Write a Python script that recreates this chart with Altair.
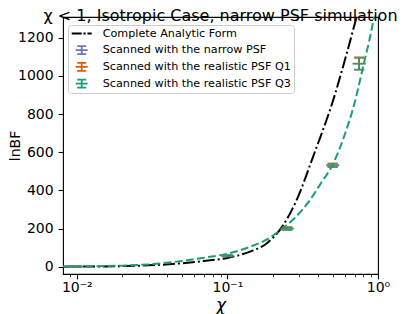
import altair as alt
import pandas as pd

# ---- data ----
chi_analytic = [0.0081, 0.01, 0.015, 0.02, 0.03, 0.05, 0.07, 0.1, 0.14, 0.182,
                0.235, 0.294, 0.37, 0.504, 0.619, 0.72]
lnbf_analytic = [0.3, 0.5, 1.5, 3, 7, 18, 30, 46, 78, 122,
                 218, 365, 575, 873, 1116, 1308]

chi_fit = [0.0081, 0.01, 0.015, 0.02, 0.03, 0.05, 0.07, 0.1, 0.14, 0.182,
           0.232, 0.28, 0.35, 0.42, 0.5, 0.6, 0.7, 0.8, 0.9, 0.94]
lnbf_fit = [0.8, 1.2, 3, 5.5, 12, 30, 47, 68, 103, 142,
            200, 255, 345, 440, 535, 690, 860, 1055, 1230, 1308]

chi_scan = [0.01, 0.1, 0.25, 0.5, 0.75]
narrow_val = [0.5, 57, 200, 531, 1064]
narrow_err = [1.5, 4, 7, 9, 31]
q1_val = [0.6, 58, 201, 532, 1065]
q1_err = [1.5, 4, 8, 10, 34]
q3_val = [0.5, 58, 199, 530, 1063]
q3_err = [1.5, 4, 7, 8, 30]

series_names = ["Complete Analytic Form",
                "Scanned with the narrow PSF",
                "Scanned with the realistic PSF Q1",
                "Scanned with the realistic PSF Q3"]
series_colors = ["#000000", "#7570b3", "#d95f02", "#1b9e77"]

title_text = "χ < 1, Isotropic Case, narrow PSF simulation"
x_major = [0.01, 0.1, 1.0]
y_ticks = [0, 200, 400, 600, 800, 1000, 1200]

# ---- tables ----
analytic_df = pd.DataFrame({"chi": chi_analytic, "lnbf": lnbf_analytic})
fit_df = pd.DataFrame({"chi": chi_fit, "lnbf": lnbf_fit})

scan_sets = [(series_names[1], narrow_val, narrow_err, series_colors[1]),
             (series_names[2], q1_val, q1_err, series_colors[2]),
             (series_names[3], q3_val, q3_err, series_colors[3])]
rows = []
for name, vals, errs, _c in scan_sets:
    for c, v, e in zip(chi_scan, vals, errs):
        rows.append({"series": name, "chi": c, "lnbf": v, "lo": v - e, "hi": v + e})
scan_df = pd.DataFrame(rows)

minor = []
for e in (-3, -2, -1):
    for k in range(2, 10):
        v = round(k * 10 ** e, 6)
        if 0.0081 <= v <= 1.0:
            minor.append(v)
tick_values = sorted(x_major + minor)

major_test = "datum.value == 0.01 || datum.value == 0.1 || datum.value == 1"

xscale = alt.Scale(type="log", domain=[0.0081, 1.0], nice=False)
yscale = alt.Scale(domain=[-38.3, 1308.5], nice=False, zero=False)

xaxis = alt.Axis(
    values=tick_values,
    labelExpr="datum.value == 0.01 ? '10⁻²' : datum.value == 0.1 ? '10⁻¹' : datum.value == 1 ? '10⁰' : ''",
    tickSize={"condition": {"test": major_test, "value": 4.9}, "value": 2.8},
    tickWidth={"condition": {"test": major_test, "value": 1.1}, "value": 0.85},
    grid=False, domain=False, labelOverlap=False, labelFlush=False,
    labelFontSize=14, labelPadding=2,
    title="χ", titleFontStyle="italic", titleFontWeight="normal", titleFontSize=17,
    titleBaseline="alphabetic", titleY=36,
)
yaxis = alt.Axis(
    values=y_ticks, format="d", tickSize=4.9, tickWidth=1.1, labelPadding=4.9,
    grid=False, domain=False, labelFontSize=14,
    title="lnBF", titleFontWeight="normal", titleFontSize=14,
    titleBaseline="alphabetic", titleX=-44, titleY=128.5,
)

X = alt.X("chi:Q", scale=xscale, axis=xaxis)
Y = alt.Y("lnbf:Q", scale=yscale, axis=yaxis)

analytic = alt.Chart(analytic_df).mark_line(
    color="black", strokeWidth=2, strokeDash=[12, 3, 2, 3], clip=True, interpolate="monotone"
).encode(x=X, y=Y)

fit = alt.Chart(fit_df).mark_line(
    color=series_colors[3], strokeWidth=2, strokeDash=[7.8, 3.4], clip=True, interpolate="monotone"
).encode(x=X, y=Y)

layers = [analytic, fit]
for name, vals, errs, col in scan_sets:
    sub = alt.Chart(scan_df).transform_filter(alt.datum.series == name)
    layers.append(sub.mark_rule(color=col, strokeWidth=1.5).encode(
        x=X, y=alt.Y("lo:Q", scale=yscale, axis=yaxis), y2="hi:Q"))
    layers.append(sub.mark_tick(color=col, orient="horizontal", size=10, thickness=1.5).encode(
        x=X, y=alt.Y("lo:Q", scale=yscale, axis=yaxis)))
    layers.append(sub.mark_tick(color=col, orient="horizontal", size=10, thickness=1.5).encode(
        x=X, y=alt.Y("hi:Q", scale=yscale, axis=yaxis)))
    layers.append(sub.mark_tick(color=col, orient="horizontal", size=13, thickness=1.5).encode(
        x=X, y=Y))

dashdot_path = "M-2,0H0M0.35,0H0.8M1.15,0H2"
eb_path = "M0,-0.8V0.8M-0.9,-0.8H0.9M-0.9,0.8H0.9M-1.2,0H1.2"

leg = alt.Legend(title=None, orient="none", legendX=5, legendY=8, symbolOpacity=1)
legend_layer = alt.Chart(scan_df).mark_point(filled=False, opacity=0).encode(
    x=X, y=Y,
    color=alt.Color("series:N", scale=alt.Scale(domain=series_names, range=series_colors), legend=leg),
    shape=alt.Shape("series:N", scale=alt.Scale(domain=series_names,
                                                range=[dashdot_path, eb_path, eb_path, eb_path]), legend=leg),
)
layers.append(legend_layer)

chart = alt.layer(*layers).properties(
    width=315, height=257,
    title=alt.TitleParams(text=title_text, fontSize=16, font="DejaVu Sans", fontWeight="normal",
                          anchor="middle", baseline="alphabetic", offset=0, dy=19.5, color="black"),
    autosize=alt.AutoSizeParams(type="none"),
    padding={"left": 55, "top": 9, "right": 21, "bottom": 40},
).configure_axis(
    labelFont="DejaVu Sans", titleFont="DejaVu Sans", labelColor="black",
    titleColor="black", tickColor="black",
).configure_legend(
    labelFont="DejaVu Sans", labelFontSize=11.2, labelColor="black", labelLimit=400,
    symbolSize=100, symbolStrokeWidth=1.8, symbolOffset=4.7, labelOffset=15,
    clipHeight=11, rowPadding=4.7, padding=3, fillColor="rgba(255,255,255,0.8)",
    strokeColor="#cccccc", cornerRadius=3, symbolOpacity=1,
).configure_view(stroke="black", strokeWidth=1.1)

chart.save("out.html", embed_options={"renderer": "svg", "actions": False})
